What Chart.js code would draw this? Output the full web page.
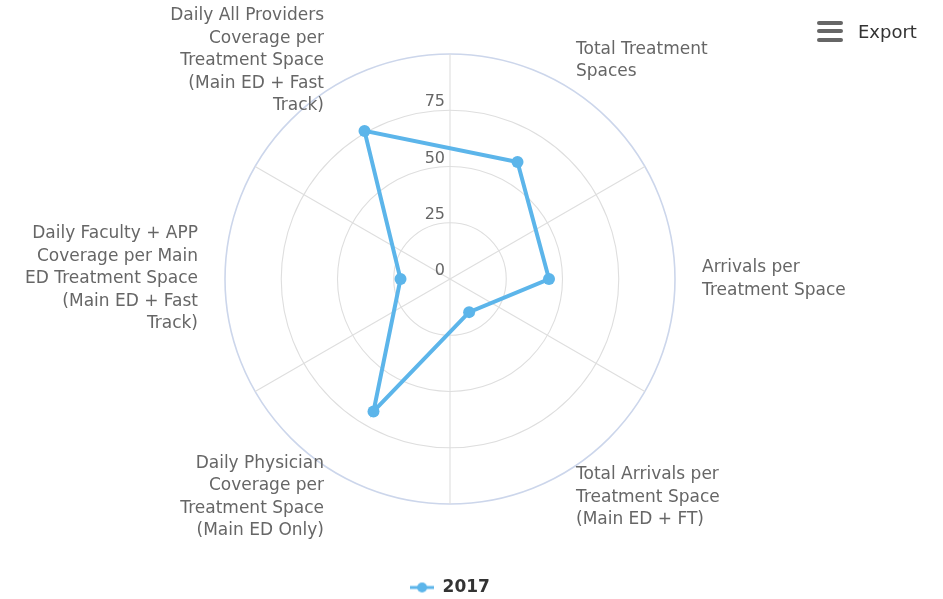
<!DOCTYPE html>
<html>
<head>
<meta charset="utf-8">
<script src="https://cdn.jsdelivr.net/npm/chart.js@4.4.1/dist/chart.umd.min.js"></script>
<style>
  html, body { margin: 0; padding: 0; background: #ffffff; }
  #wrap { position: relative; width: 943px; height: 599px; }
  #export { position: absolute; left: 817px; top: 20px; height: 22px; display: flex; align-items: center;
            font-family: 'DejaVu Sans', sans-serif; font-size: 18px; color: #333333; }
  #export .bars { width: 26px; height: 21px; display: flex; flex-direction: column; justify-content: space-between; margin-right: 15px; }
  #export .bars span { display: block; height: 4px; background: #666666; border-radius: 2px; }
</style>
</head>
<body>
<div id="wrap">
  <canvas id="c" width="943" height="599"></canvas>
  <div id="export"><div class="bars"><span></span><span></span><span></span></div>Export</div>
</div>
<script>
// ---- data ----
const categories = [
  ['Total Treatment', 'Spaces'],
  ['Arrivals per', 'Treatment Space'],
  ['Total Arrivals per', 'Treatment Space', '(Main ED + FT)'],
  ['Daily Physician', 'Coverage per', 'Treatment Space', '(Main ED Only)'],
  ['Daily Faculty + APP', 'Coverage per Main', 'ED Treatment Space', '(Main ED + Fast', 'Track)'],
  ['Daily All Providers', 'Coverage per', 'Treatment Space', '(Main ED + Fast', 'Track)']
];
const seriesName = '2017';
const series2017 = [60, 44, 17, 68, 22, 76];
const tickLabels = [0, 25, 50, 75];
const axisMax = 100;
const axisStep = 25;

const seriesColor = '#5cb5ea';
const FONT = "'DejaVu Sans', sans-serif";

// legend symbol: line with a marker (Highcharts-style)
const legendSymbol = document.createElement('canvas');
legendSymbol.width = 24; legendSymbol.height = 12;
(function () {
  const g = legendSymbol.getContext('2d');
  g.strokeStyle = seriesColor; g.lineWidth = 3;
  g.beginPath(); g.moveTo(0, 6); g.lineTo(24, 6); g.stroke();
  g.fillStyle = seriesColor;
  g.beginPath(); g.arc(12, 6, 5, 0, Math.PI * 2); g.fill();
})();

// draws spokes between categories, tick labels on the vertical, and category labels
const polarDecor = {
  id: 'polarDecor',
  beforeDatasetsDraw(chart) {
    const s = chart.scales.r;
    const ctx = chart.ctx;
    const n = chart.data.labels.length;
    ctx.save();
    // spokes (half a step before each category)
    ctx.strokeStyle = '#dedede';
    ctx.lineWidth = 1.1;
    for (let i = 0; i < n; i++) {
      const p = s.getPointPosition(i, s.drawingArea, -Math.PI / n);
      ctx.beginPath();
      ctx.moveTo(s.xCenter, s.yCenter);
      ctx.lineTo(p.x, p.y);
      ctx.stroke();
    }
    // tick labels
    ctx.fillStyle = '#666666';
    ctx.font = '16px ' + FONT;
    ctx.textAlign = 'right';
    ctx.textBaseline = 'alphabetic';
    tickLabels.forEach(v => {
      const d = s.getDistanceFromCenterForValue(v);
      ctx.fillText(String(v), s.xCenter - 5, s.yCenter - d - 4);
    });
    // category labels
    ctx.font = '17px ' + FONT;
    ctx.textBaseline = 'middle';
    const lh = 22.5;
    chart.data.labels.forEach((lines, i) => {
      const p = s.getPointPosition(i, s.drawingArea + 27);
      if (p.x > s.xCenter + 1) ctx.textAlign = 'left';
      else if (p.x < s.xCenter - 1) ctx.textAlign = 'right';
      else ctx.textAlign = 'center';
      const y0 = p.y - (lines.length * lh) / 2 + lh / 2;
      lines.forEach((t, k) => ctx.fillText(t, p.x, y0 + k * lh));
    });
    ctx.restore();
  }
};

Chart.defaults.font.family = FONT;

new Chart(document.getElementById('c'), {
  type: 'radar',
  data: {
    labels: categories,
    datasets: [{
      label: seriesName,
      data: series2017,
      borderColor: seriesColor,
      backgroundColor: seriesColor,
      borderWidth: 4,
      fill: false,
      pointRadius: 6,
      pointBorderWidth: 0,
      pointBackgroundColor: seriesColor,
      tension: 0
    }]
  },
  options: {
    responsive: false,
    animation: false,
    layout: { padding: { left: 225, right: 268, top: 0, bottom: -7 } },
    scales: {
      r: {
        min: 0,
        max: axisMax,
        startAngle: 30,
        ticks: { stepSize: axisStep, display: false },
        angleLines: { display: false },
        pointLabels: { display: false },
        grid: {
          circular: true,
          lineWidth: ctx => (ctx.tick && ctx.tick.value === axisMax) ? 1.6 : 1.1,
          color: ctx => (ctx.tick && ctx.tick.value === axisMax) ? '#ccd6eb' : '#dedede'
        }
      }
    },
    plugins: {
      legend: {
        position: 'bottom',
        labels: {
          usePointStyle: true,
          pointStyle: legendSymbol,
          pointStyleWidth: 24,
          padding: 21,
          color: '#333333',
          font: { size: 17, weight: 'bold', family: FONT }
        }
      },
      tooltip: { enabled: false }
    }
  },
  plugins: [polarDecor]
});
</script>
</body>
</html>
